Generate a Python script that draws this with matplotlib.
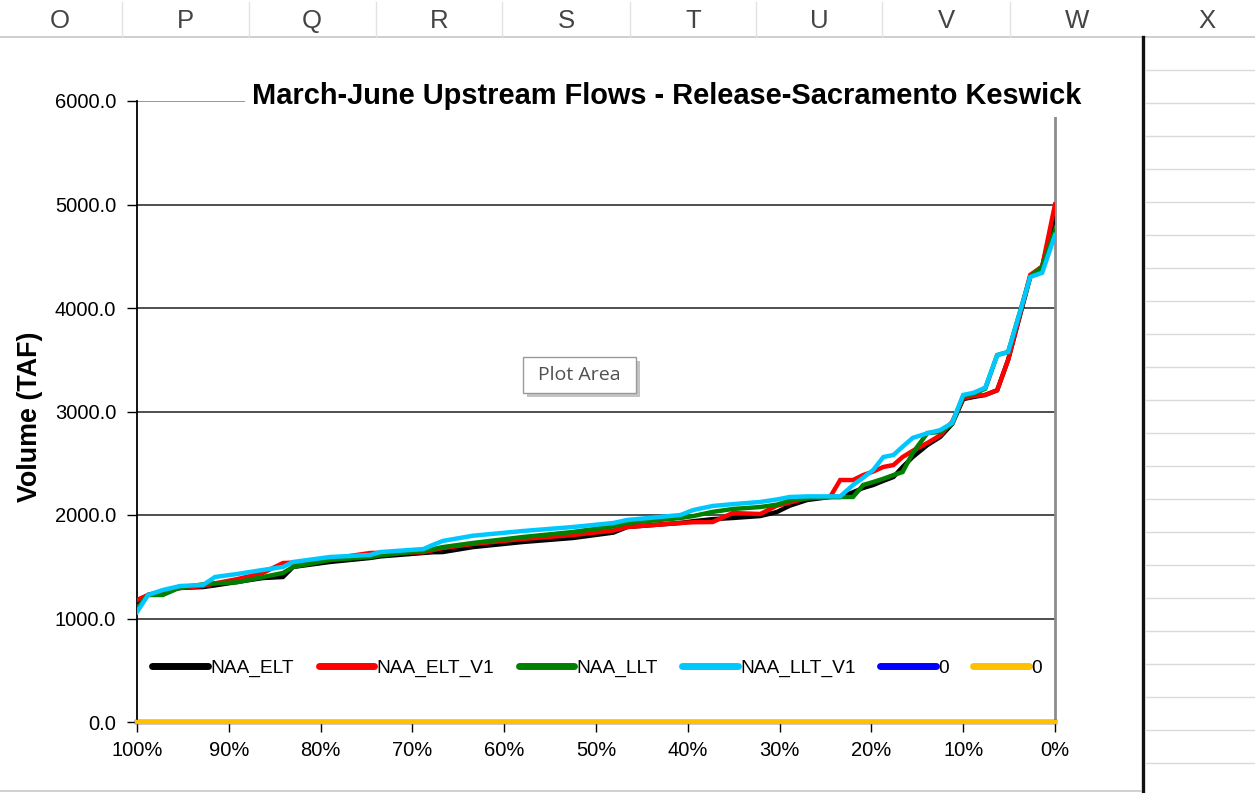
import matplotlib
matplotlib.use('Agg')
import matplotlib.pyplot as plt
from matplotlib.patches import Rectangle
from matplotlib.lines import Line2D

plt.rcParams['font.family'] = ['Liberation Sans', 'DejaVu Sans']

# ---------------- data ----------------
title = "March-June Upstream Flows - Release-Sacramento Keswick"
y_label = "Volume (TAF)"
series_names = ["NAA_ELT", "NAA_ELT_V1", "NAA_LLT", "NAA_LLT_V1", "0", "0"]
series_colors = ["#000000", "#ff0000", "#008000", "#00c8ff", "#0000ff", "#ffc000"]
column_letters = ["O", "P", "Q", "R", "S", "T", "U", "V", "W", "X"]

exceedance = [100, 98.8, 97.2, 95.3, 92.8, 91.5, 89.1, 86.3, 84.1, 83.0, 79.0, 74.6,
              73.5, 68.8, 67.8, 66.7, 63.4, 58.0, 52.5, 48.1, 46.6, 40.8, 39.4, 37.3,
              35.1, 32.1, 30.3, 28.9, 27.0, 24.5, 23.4, 22.0, 20.9, 19.8, 18.7, 17.6,
              16.6, 15.5, 13.9, 12.5, 11.2, 10.0, 8.9, 7.6, 6.3, 5.1, 2.7, 1.4, 0]

naa_elt = [1150, 1227, 1260, 1295, 1304, 1320, 1353, 1391, 1401, 1498, 1546, 1585,
           1600, 1633, 1640, 1642, 1690, 1739, 1778, 1830, 1884, 1923, 1940, 1960,
           1971, 1990, 2029, 2090, 2145, 2174, 2174, 2220, 2261, 2290, 2330, 2367,
           2464, 2560, 2676, 2754, 2880, 3120, 3140, 3160, 3205, 3500, 4300, 4400, 4900]

naa_elt_v1 = [1179, 1227, 1265, 1295, 1314, 1340, 1380, 1440, 1536, 1540, 1575, 1633,
              1635, 1640, 1660, 1681, 1720, 1768, 1807, 1850, 1884, 1923, 1930, 1932,
              2019, 2010, 2090, 2120, 2164, 2174, 2338, 2338, 2386, 2420, 2464, 2483,
              2560, 2620, 2696, 2770, 2900, 3130, 3150, 3160, 3205, 3500, 4320, 4400, 5000]

naa_llt = [1100, 1227, 1227, 1300, 1330, 1340, 1350, 1400, 1440, 1498, 1565, 1594,
           1610, 1652, 1670, 1690, 1730, 1787, 1836, 1890, 1923, 1971, 1990, 2030,
           2058, 2077, 2100, 2140, 2160, 2174, 2174, 2174, 2290, 2319, 2350, 2386,
           2415, 2600, 2792, 2802, 2880, 3150, 3170, 3220, 3545, 3575, 4300, 4400, 4750]

naa_llt_v1 = [1063, 1227, 1275, 1314, 1324, 1401, 1430, 1469, 1498, 1546, 1594, 1614,
              1642, 1671, 1710, 1749, 1800, 1845, 1884, 1923, 1952, 2000, 2048, 2087,
              2105, 2126, 2150, 2174, 2180, 2180, 2180, 2290, 2360, 2435, 2560, 2580,
              2660, 2745, 2790, 2820, 2890, 3160, 3180, 3230, 3545, 3575, 4300, 4340, 4705]

zero_x = [100, 0]
zero_a = [0.0, 0.0]
zero_b = [0.0, 0.0]

y_ticks = [0, 1000, 2000, 3000, 4000, 5000, 6000]
x_ticks = [100, 90, 80, 70, 60, 50, 40, 30, 20, 10, 0]

# ---------------- figure ----------------
W, H = 1255, 793
fig = plt.figure(figsize=(W / 100, H / 100), dpi=100)
fig.patch.set_facecolor('white')


def fx(px):
    return px / W


def fy(py):
    return 1 - py / H


# spreadsheet background
fig.add_artist(Line2D([0, 1], [fy(37), fy(37)], color='#c6c6c6', lw=1.2))
for sx in [122, 249, 376, 502, 630, 756, 882, 1010]:
    fig.add_artist(Line2D([fx(sx), fx(sx)], [fy(2), fy(37)], color='#e2e2e2', lw=1))
col_centers = [60, 185, 312, 439, 566, 693, 819, 946, 1077, 1207]
for cx, letter in zip(col_centers, column_letters):
    fig.text(fx(cx), fy(21), letter, ha='center', va='center', fontsize=18.5,
             color='#444444')
fig.add_artist(Line2D([fx(1143), fx(1143)], [fy(37), fy(793)], color='#111111', lw=2.4))
row_y = 70
while row_y < 793:
    fig.add_artist(Line2D([fx(1146), 1], [fy(row_y), fy(row_y)], color='#dadada', lw=1))
    row_y += 33
fig.add_artist(Line2D([0, fx(1141)], [fy(791), fy(791)], color='#c8c8c8', lw=1.2))

# axes
ax = fig.add_axes([fx(137), fy(722), fx(1055) - fx(137), fy(101) - fy(722)])
ax.set_facecolor('white')

series = [naa_elt, naa_elt_v1, naa_llt, naa_llt_v1]
for vals, name, col in zip(series, series_names[:4], series_colors[:4]):
    ax.plot(exceedance, vals, color=col, lw=3.2, label=name, solid_joinstyle='miter',
            zorder=3)
ax.plot(zero_x, zero_a, color=series_colors[4], lw=3.2, label=series_names[4], zorder=3,
        clip_on=False)
ax.plot(zero_x, zero_b, color=series_colors[5], lw=3.2, label=series_names[5], zorder=3,
        clip_on=False)

ax.set_xlim(100, 0)
ax.set_ylim(0, 6000)
ax.set_yticks(y_ticks)
ax.set_yticklabels([f"{v:.1f}" for v in y_ticks])
ax.set_xticks(x_ticks)
ax.set_xticklabels([f"{v}%" for v in x_ticks])
ax.tick_params(axis='both', direction='out', length=7, width=1, labelsize=14.5,
               colors='black')
ax.tick_params(axis='y', pad=8)
ax.tick_params(axis='x', pad=7)

ax.grid(axis='y', color='#1e1e1e', lw=1.1, zorder=1)
ax.set_axisbelow(True)
ax.get_ygridlines()[-1].set_color('#7a7a7a')
ax.spines['top'].set_visible(False)
ax.spines['left'].set_color('black')
ax.spines['left'].set_linewidth(1.3)
ax.spines['bottom'].set_color('black')
ax.spines['right'].set_color('#8c8c8c')
ax.spines['right'].set_linewidth(2.0)

leg = ax.legend(loc='center', bbox_to_anchor=(fx(597), fy(668)),
                bbox_transform=fig.transFigure, ncol=6, frameon=False,
                fontsize=13.8, handlelength=2.9, handletextpad=0.1,
                columnspacing=1.3)
for h in leg.legend_handles:
    h.set_linewidth(5)
    h.set_solid_capstyle('round')

# title with white box covering top of plot area
fig.add_artist(Rectangle((fx(245), fy(117)), fx(1092) - fx(245), fy(62) - fy(117),
                         transform=fig.transFigure, facecolor='white', edgecolor='none',
                         zorder=5))
fig.text(fx(667), fy(96), title, ha='center', va='center', fontsize=20.9,
         weight='bold', zorder=6)

# y axis label
fig.text(fx(30), fy(417), y_label, ha='center', va='center', rotation=90,
         fontsize=19.4, weight='bold')

# "Plot Area" tooltip
fig.add_artist(Rectangle((fx(527), fy(397)), fx(640) - fx(527), fy(361) - fy(397),
                         transform=fig.transFigure, facecolor='#c4c4c4',
                         edgecolor='none', zorder=7))
fig.add_artist(Rectangle((fx(523), fy(393)), fx(636) - fx(523), fy(357) - fy(393),
                         transform=fig.transFigure, facecolor='white',
                         edgecolor='#9a9a9a', lw=1, zorder=8))
fig.text(fx(579), fy(375), "Plot Area", ha='center', va='center', fontsize=14,
         color='#505050', family=['Open Sans', 'DejaVu Sans'], zorder=9)

fig.savefig('out.png', dpi=100, facecolor='white')
